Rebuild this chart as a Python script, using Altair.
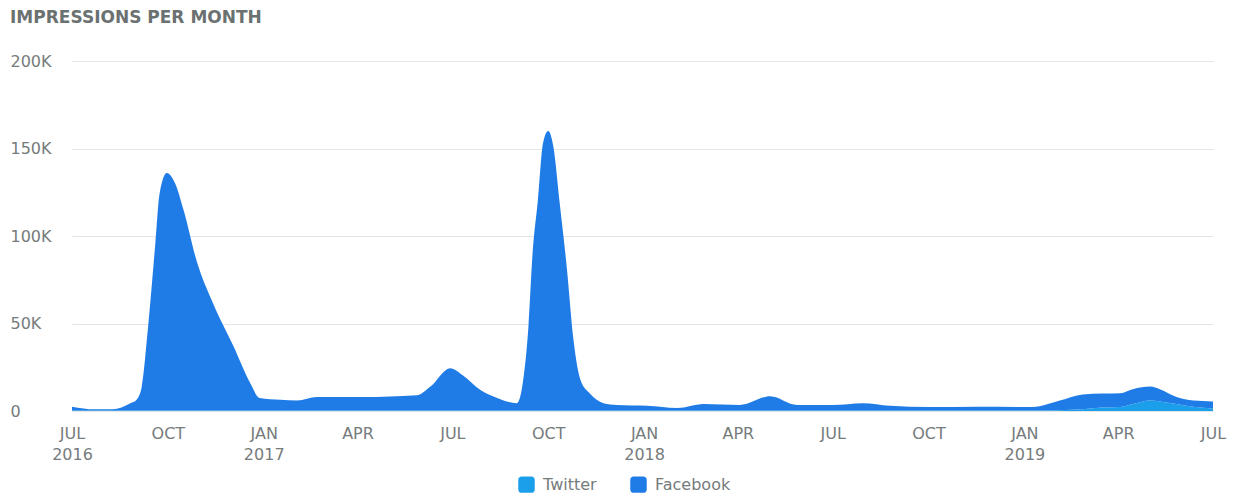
import altair as alt
import pandas as pd

dates = [
    "2016-07-01", "2016-07-23", "2016-08-09", "2016-08-26", "2016-09-01", "2016-09-06",
    "2016-09-12", "2016-09-19", "2016-09-23", "2016-09-30", "2016-10-08", "2016-10-16",
    "2016-10-29", "2016-11-13", "2016-12-03", "2016-12-19", "2016-12-28", "2017-01-17",
    "2017-02-02", "2017-02-21", "2017-04-06", "2017-05-28", "2017-06-10", "2017-06-29",
    "2017-07-11", "2017-07-28", "2017-08-13", "2017-09-01", "2017-09-07", "2017-09-12",
    "2017-09-16", "2017-09-21", "2017-09-26", "2017-10-01", "2017-10-06", "2017-10-12",
    "2017-10-19", "2017-10-25", "2017-11-01", "2017-11-10", "2017-11-23", "2017-12-06",
    "2018-01-04", "2018-02-02", "2018-02-27", "2018-04-03", "2018-05-02", "2018-05-28",
    "2018-07-01", "2018-07-30", "2018-08-25", "2018-10-02", "2018-11-17", "2019-01-09",
    "2019-02-04", "2019-02-26", "2019-03-17", "2019-04-03", "2019-04-15", "2019-05-02",
    "2019-05-11", "2019-05-27", "2019-06-12", "2019-07-01",
]
facebook = [
    2200, 700, 700, 4200, 6200, 13700,
    47700, 95700, 123700, 135700, 129700, 114700,
    84700, 61700, 36700, 15700, 7200, 6200,
    5700, 7700, 7700, 8700, 13700, 24200,
    20200, 11700, 7200, 4200, 17400, 47700,
    89700, 119700, 152700, 159700, 150700, 118700,
    80700, 41700, 17400, 9700, 4200, 3200,
    2700, 1400, 3700, 3200, 8200, 3200,
    3200, 4200, 2700, 2000, 2200, 2000,
    5500, 8500, 8000, 7900, 8500, 8000,
    7000, 4000, 3500, 4000,
]
twitter = [
    300, 300, 300, 300, 300, 300,
    300, 300, 300, 300, 300, 300,
    300, 300, 300, 300, 300, 300,
    300, 300, 300, 300, 300, 300,
    300, 300, 300, 300, 300, 300,
    300, 300, 300, 300, 300, 300,
    300, 300, 300, 300, 300, 300,
    300, 300, 300, 300, 300, 300,
    300, 300, 300, 300, 300, 300,
    500, 1000, 2000, 2300, 4000, 6000,
    5500, 4000, 2500, 1500,
]
series = ["Twitter", "Facebook"]
colors = ["#1b9fea", "#1f7ce6"]
y_ticks = [0, 50000, 100000, 150000, 200000]
x_ticks = [(2016, 7), (2016, 10), (2017, 1), (2017, 4), (2017, 7), (2017, 10),
           (2018, 1), (2018, 4), (2018, 7), (2018, 10), (2019, 1), (2019, 4), (2019, 7)]

rows = []
for d, t, f in zip(dates, twitter, facebook):
    rows.append({"date": d, "source": "Twitter", "value": t, "ord": 0})
    rows.append({"date": d, "source": "Facebook", "value": f, "ord": 1})
df = pd.DataFrame(rows)

FONT = "DejaVu Sans"
GRAY = "#767b7c"

rounded_square = ("M-1,-0.55 Q-1,-1 -0.55,-1 L0.55,-1 Q1,-1 1,-0.55 L1,0.55 "
                  "Q1,1 0.55,1 L-0.55,1 Q-1,1 -1,0.55 Z")

x_label = ("[upper(utcFormat(datum.value, '%b')), "
           "(utcmonth(datum.value) == 0 || (utcyear(datum.value) == 2016 && utcmonth(datum.value) == 6))"
           " ? utcFormat(datum.value, '%Y') : '']")

chart = alt.Chart(df).mark_area(interpolate="monotone", opacity=1).encode(
    x=alt.X(
        "date:T",
        scale=alt.Scale(type="utc",
                        domain=[alt.DateTime(year=2016, month=7, date=1, utc=True),
                                alt.DateTime(year=2019, month=7, date=1, utc=True)]),
        axis=alt.Axis(
            values=[alt.DateTime(year=y, month=m, date=1, utc=True) for y, m in x_ticks],
            labelExpr=x_label, title=None, domain=False, ticks=False, tickSize=0,
            grid=False, labelPadding=14, labelFont=FONT, labelFontSize=16,
            labelColor=GRAY, labelLineHeight=21, labelFlush=False, labelAlign="center",
        ),
    ),
    y=alt.Y(
        "value:Q", stack="zero",
        scale=alt.Scale(domain=[0, 200000], nice=False),
        axis=alt.Axis(
            values=y_ticks,
            labelExpr="datum.value == 0 ? '0' : (datum.value / 1000) + 'K'",
            title=None, domain=False, ticks=False, tickSize=0, labelAlign="left",
            labelPadding=62, labelBaseline="middle", labelFont=FONT, labelFontSize=16,
            labelColor=GRAY, gridColor="#e4e6e6", gridWidth=1.2,
        ),
    ),
    color=alt.Color(
        "source:N",
        scale=alt.Scale(domain=series, range=colors),
        legend=alt.Legend(
            title=None, orient="none", legendX=446, legendY=415, direction="horizontal",
            symbolType=rounded_square, symbolSize=272, symbolStrokeWidth=0, symbolOpacity=1,
            labelFont=FONT, labelFontSize=16, labelColor=GRAY, labelOffset=8,
            columnPadding=33, padding=0,
        ),
    ),
    order=alt.Order("ord:Q"),
).properties(
    width=1141,
    height=350,
    autosize=alt.AutoSizeParams(type="none"),
    padding={"left": 64, "top": 53, "right": 20, "bottom": 85},
    title=alt.Title("IMPRESSIONS PER MONTH", anchor="start", frame="bounds",
                    font=FONT, fontSize=17, fontWeight="bold", color="#6b7171",
                    offset=26),
).configure_view(stroke=None)

chart.save("out.html", embed_options={"renderer": "svg", "actions": False})
